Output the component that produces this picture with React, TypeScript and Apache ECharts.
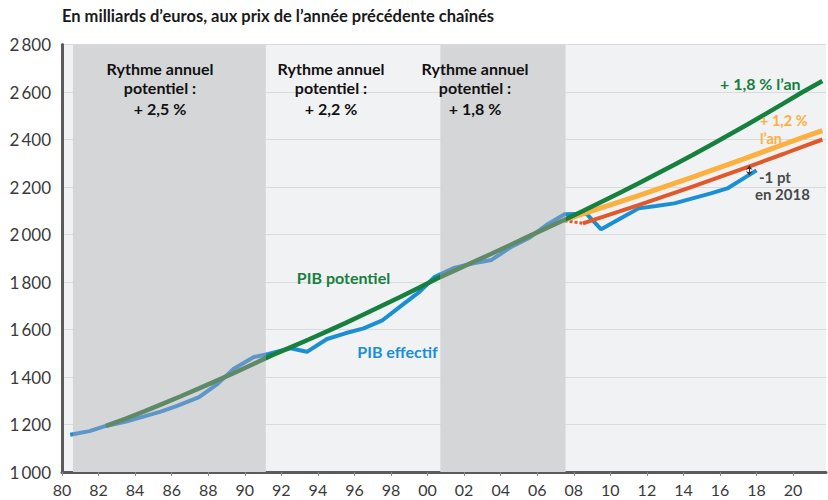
import React, { useEffect, useRef } from "react";
import * as echarts from "echarts";

// ---- Data ----
const blueX = [1980.45, 1981.5, 1982.4, 1983.5, 1984.5, 1985.4, 1986.3, 1987.5, 1988.5, 1989.4, 1990.5, 1991.3, 1992.5, 1993.4, 1994.5, 1995.5, 1996.5, 1997.5, 1998.5, 1999.5, 2000.4, 2001.4, 2002.5, 2003.5, 2004.6, 2005.6, 2006.5, 2007.5, 2008.7, 2009.5, 2010.5, 2011.55, 2012.5, 2013.5, 2014.5, 2015.5, 2016.4, 2018.0];
const blueVals = [1157, 1172, 1194, 1212, 1234, 1254, 1278, 1315, 1370, 1435, 1484, 1497, 1521, 1506, 1560, 1584, 1605, 1637, 1696, 1755, 1822, 1858, 1879, 1893, 1949, 1988, 2040, 2085, 2087, 2022, 2065, 2110, 2120, 2131, 2152, 2173, 2194, 2270];

const greenX = [1982.4, 1983.5, 1984.5, 1985.5, 1986.5, 1987.5, 1988.5, 1989.5, 1990.5, 1991.5, 1992.5, 1993.5, 1994.5, 1995.5, 1996.5, 1997.5, 1998.5, 1999.5, 2000.5, 2001.5, 2002.5, 2003.5, 2004.5, 2005.5, 2006.5, 2007.5, 2008.5, 2009.5, 2010.5, 2011.5, 2012.5, 2013.5, 2014.5, 2015.5, 2016.5, 2017.5, 2018.5, 2019.5, 2020.5, 2021.6];
const greenVals = [1194, 1225, 1255, 1287, 1319, 1352, 1386, 1420, 1456, 1492, 1525, 1558, 1592, 1627, 1663, 1700, 1737, 1775, 1814, 1849, 1884, 1919, 1955, 1991, 2027, 2062, 2099, 2137, 2175, 2214, 2254, 2294, 2335, 2377, 2420, 2463, 2508, 2553, 2599, 2646];

const orangeX = [2007.5, 2008.5, 2009.5, 2010.5, 2011.5, 2012.5, 2013.5, 2014.5, 2015.5, 2016.5, 2017.5, 2018.5, 2019.5, 2020.5, 2021.6];
const orangeVals = [2062, 2087, 2112, 2137, 2163, 2189, 2215, 2242, 2269, 2296, 2324, 2352, 2380, 2408, 2437];

const redDashX = [2007.5, 2008.5];
const redDashVals = [2058, 2047];
const redX = [2008.5, 2009.5, 2010.5, 2011.5, 2012.5, 2013.5, 2014.5, 2015.5, 2016.5, 2017.5, 2018.5, 2019.5, 2020.5, 2021.6];
const redVals = [2047, 2072, 2097, 2123, 2149, 2175, 2202, 2229, 2256, 2284, 2312, 2340, 2369, 2400];

// shaded periods (potential growth regimes)
const bandStarts = [1980.6, 2000.7];
const bandEnds = [1991.15, 2007.55];

// "-1 pt en 2018" gap arrow
const gapYear = 2017.6;
const gapTop = 2290;
const gapBottom = 2250;

const xTicks = [1980, 1982, 1984, 1986, 1988, 1990, 1992, 1994, 1996, 1998, 2000, 2002, 2004, 2006, 2008, 2010, 2012, 2014, 2016, 2018, 2020];

const Y_MIN = 1000;
const Y_MAX = 2800;

const GREEN = "#17803f";
const GREEN_SHADED = "#5e8a68";
const BLUE = "#1b8fd4";
const BLUE_SHADED = "#5f96c8";
const ORANGE = "#fbb040";
const RED = "#e1592a";
const BAND = "#d5d6d8";
const FONT = "Lato";

const zip = (xs: number[], ys: number[]) => xs.map((x, i) => [x, ys[i]]);

// colour pieces along x: shaded look inside the bands
const shadePieces = (normal: string, shaded: string) => [
  { lt: bandStarts[0], color: normal },
  { gte: bandStarts[0], lt: bandEnds[0], color: shaded },
  { gte: bandEnds[0], lt: bandStarts[1], color: normal },
  { gte: bandStarts[1], lt: bandEnds[1], color: shaded },
  { gte: bandEnds[1], color: normal },
];

export default function App() {
  const ref = useRef<HTMLDivElement>(null);
  useEffect(() => {
    document.body.style.margin = "0";
    const chart = echarts.init(ref.current!, null, { renderer: "svg" });
    const txt = (x: number, y: number, text: string, color: string, size: number, align = "center", weight = "bold") => ({
      type: "text",
      x,
      y,
      silent: true,
      z: 100,
      style: { text, fill: color, font: `${weight} ${size}px ${FONT}`, textAlign: align, textVerticalAlign: "middle" },
    });
    const bandText = (cx: number, rate: string) => [
      txt(cx, 68, "Rythme annuel", "#111", 16),
      txt(cx, 87, "potentiel :", "#111", 16),
      txt(cx, 108, rate, "#111", 16),
    ];
    chart.setOption({
      animation: false,
      grid: { left: 62, right: 2, top: 44.5, bottom: 28, show: true, backgroundColor: "#f1f2f4", borderWidth: 0 },
      visualMap: [
        { type: "piecewise", show: false, seriesIndex: 0, dimension: 0, pieces: shadePieces(BLUE, BLUE_SHADED) },
        { type: "piecewise", show: false, seriesIndex: 4, dimension: 0, pieces: shadePieces(GREEN, GREEN_SHADED) },
      ],
      xAxis: {
        type: "value",
        min: 1980,
        max: 2021.8,
        axisLine: { show: true, onZero: false, lineStyle: { color: "#5b5b5b", width: 3 } },
        axisTick: { show: true, customValues: xTicks, length: 4, lineStyle: { color: "#8a8a8a", width: 1 } },
        axisLabel: {
          customValues: xTicks,
          formatter: (v: number) => String(v % 100).padStart(2, "0"),
          color: "#3a3a3a",
          fontSize: 16,
          fontFamily: FONT,
          margin: 9,
        },
        splitLine: { show: false },
      },
      yAxis: {
        type: "value",
        min: Y_MIN,
        max: Y_MAX,
        interval: 200,
        axisLine: { show: true, lineStyle: { color: "#5b5b5b", width: 3 } },
        axisTick: { show: false },
        axisLabel: {
          formatter: (v: number) => {
            const s = String(v);
            return s.slice(0, s.length - 3) + "\u2009" + s.slice(-3);
          },
          color: "#3a3a3a",
          fontSize: 17,
          fontFamily: FONT,
          margin: 11,
        },
        splitLine: { show: true, lineStyle: { color: "#d9dadc", width: 1 } },
      },
      series: [
        {
          type: "line",
          name: "PIB effectif",
          data: zip(blueX, blueVals),
          showSymbol: false,
          z: 2,
          lineStyle: { width: 4 },
          markLine: {
            silent: true,
            z: 20,
            symbol: ["arrow", "arrow"],
            symbolSize: [5, 4],
            label: { show: false },
            lineStyle: { color: "#333", width: 1, type: "solid" },
            data: [[{ coord: [gapYear, gapTop] }, { coord: [gapYear, gapBottom] }]],
          },
        },
        {
          type: "line",
          name: "red dash",
          data: zip(redDashX, redDashVals),
          showSymbol: false,
          z: 3,
          lineStyle: { color: RED, width: 3, type: [3, 2] },
        },
        {
          type: "line",
          name: "+1,0 %",
          data: zip(redX, redVals),
          showSymbol: false,
          z: 3,
          lineStyle: { color: RED, width: 4 },
        },
        {
          type: "line",
          name: "+1,2 %",
          data: zip(orangeX, orangeVals),
          showSymbol: false,
          z: 4,
          lineStyle: { color: ORANGE, width: 5 },
        },
        {
          type: "line",
          name: "PIB potentiel",
          data: zip(greenX, greenVals),
          showSymbol: false,
          z: 5,
          lineStyle: { width: 4.5 },
        },
        {
          type: "custom",
          name: "bands",
          z: 1,
          silent: true,
          data: bandStarts.map((s, i) => [s, bandEnds[i]]),
          renderItem: (params: any, api: any) => {
            const p0 = api.coord([api.value(0), Y_MAX]);
            const p1 = api.coord([api.value(1), Y_MIN]);
            return {
              type: "rect",
              shape: { x: p0[0], y: p0[1], width: p1[0] - p0[0], height: p1[1] - p0[1] },
              style: { fill: BAND },
            };
          },
        },
      ],
      graphic: [
        txt(62, 16, "En milliards d\u2019euros, aux prix de l\u2019ann\u00e9e pr\u00e9c\u00e9dente cha\u00een\u00e9s", "#1a1a1a", 16.5, "left"),
        ...bandText(160, "+ 2,5 %"),
        ...bandText(331, "+ 2,2 %"),
        ...bandText(475, "+ 1,8 %"),
        txt(343.5, 277, "PIB potentiel", GREEN, 16),
        txt(397.5, 351, "PIB effectif", BLUE, 16),
        txt(720, 83, "+ 1,8 % l\u2019an", GREEN, 16, "left"),
        txt(760, 120, "+ 1,2 %", ORANGE, 14.5, "left"),
        txt(760, 138, "l\u2019an", ORANGE, 14.5, "left"),
        txt(759, 177, "-1 pt", "#4a4a4a", 15, "left"),
        txt(755, 194, "en 2018", "#4a4a4a", 15, "left"),
      ],
    });
    return () => chart.dispose();
  }, []);
  return <div ref={ref} style={{ width: 828, height: 500 }} />;
}
